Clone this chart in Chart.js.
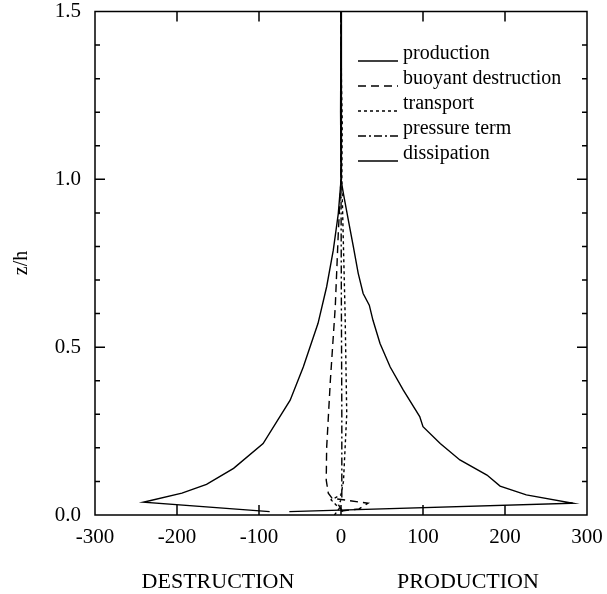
<!DOCTYPE html>
<html>
<head>
<meta charset="utf-8">
<script src="https://cdn.jsdelivr.net/npm/chart.js@4"></script>
<style>
  body { margin: 0; background: #fff; }
</style>
</head>
<body>
<canvas id="budget" width="607" height="594"></canvas>
<script>
// TKE budget terms against z/h (x = term value, y = z/h)
var seriesLabels = ["production", "buoyant destruction", "transport", "pressure term", "dissipation"];

var zProduction = [0.01, 0.035, 0.06, 0.086, 0.119, 0.164, 0.213, 0.263, 0.293, 0.372, 0.441, 0.511, 0.58, 0.625, 0.66, 0.72, 0.80, 0.878, 0.957, 1.0, 1.17, 1.35, 1.5];
var production  = [-63, 283, 226, 194, 178, 145, 121, 100, 96, 76, 60, 47.6, 39, 34.5, 27, 21, 15, 9, 3, 0, 1, 0.5, 0];

var zBuoyant = [0.012, 0.018, 0.035, 0.05, 0.065, 0.104, 0.2, 0.4, 0.62, 0.84, 1.0, 1.5];
var buoyant  = [0, 22, 33, -11, -15.5, -18, -17.5, -13, -7, -3.3, 0, 0];

var zTransport = [0.0, 0.02, 0.045, 0.06, 0.1, 0.2, 0.3, 0.45, 0.6, 0.8, 1.0, 1.17, 1.3, 1.5];
var transport  = [-8, -2, -12, 0, 3, 5, 7, 6, 5, 3, 1, 1.5, 0.5, 0];

var zPressure = [0.01, 0.03, 0.05, 0.1, 0.3, 0.6, 1.0, 1.5];
var pressure  = [2, -3, 1, 1, 1, 0.5, 0, 0];

var zDissipation = [0.01, 0.038, 0.065, 0.091, 0.139, 0.213, 0.342, 0.441, 0.571, 0.68, 0.789, 0.898, 0.997, 1.2, 1.5];
var dissipation  = [-87, -241, -194, -164, -131, -95, -62, -46, -28, -17.5, -9.4, -3.3, 0, -0.5, 0];

var xTicks = [-300, -200, -100, 0, 100, 200, 300];
var yTicks = [0.0, 0.5, 1.0, 1.5];

var dashes = [[], [8, 5], [3, 3], [8, 3, 2, 3], []];

const pairs = (xs, zs) => xs.map((v, i) => ({ x: v, y: zs[i] }));

const serif = "'Liberation Serif', 'DejaVu Serif', serif";

const frameTicks = {
  id: 'frameTicks',
  afterDraw(chart) {
    const c = chart.ctx, a = chart.chartArea;
    const xs = chart.scales.x, ys = chart.scales.y;
    c.save();
    c.strokeStyle = '#000';
    c.lineWidth = 1.5;
    c.strokeRect(a.left, a.top, a.right - a.left, a.bottom - a.top);
    c.beginPath();
    xTicks.slice(1, -1).forEach(v => {
      const px = xs.getPixelForValue(v);
      c.moveTo(px, a.bottom); c.lineTo(px, a.bottom - 10);
      c.moveTo(px, a.top); c.lineTo(px, a.top + 10);
    });
    for (let i = 1; i < 15; i++) {
      const py = ys.getPixelForValue(i / 10);
      const len = (i % 5 === 0) ? 10 : 5;
      c.moveTo(a.left, py); c.lineTo(a.left + len, py);
      c.moveTo(a.right, py); c.lineTo(a.right - len, py);
    }
    c.stroke();

    // legend
    c.font = '20px ' + serif;
    c.fillStyle = '#000';
    c.textBaseline = 'middle';
    chart.data.datasets.forEach((ds, i) => {
      const y = 54 + i * 25;
      c.beginPath();
      c.lineWidth = 1.3;
      c.setLineDash(dashes[i]);
      c.moveTo(358, y + 7); c.lineTo(398, y + 7);
      c.stroke();
      c.setLineDash([]);
      c.fillText(ds.label, 403, y);
    });

    // axis titles
    c.font = '22px ' + serif;
    c.textAlign = 'center';
    c.fillText('DESTRUCTION', 218, 582);
    c.fillText('PRODUCTION', 468, 582);
    c.translate(22, 263);
    c.rotate(-Math.PI / 2);
    c.font = '20px ' + serif;
    c.fillText('z/h', 0, 0);
    c.restore();
  }
};

const makeSet = (i, xs, zs) => ({
  label: seriesLabels[i],
  data: pairs(xs, zs),
  borderColor: '#000',
  borderWidth: 1.4,
  borderDash: dashes[i],
  pointRadius: 0,
  fill: false,
  tension: 0
});

var ctx = document.getElementById('budget').getContext('2d');
var chart = new Chart(ctx, {
  type: 'scatter',
  data: {
    datasets: [
      makeSet(0, production, zProduction),
      makeSet(1, buoyant, zBuoyant),
      makeSet(2, transport, zTransport),
      makeSet(3, pressure, zPressure),
      makeSet(4, dissipation, zDissipation)
    ]
  },
  options: {
    responsive: false,
    animation: false,
    showLine: true,
    layout: { padding: { left: 0, right: 20, top: 11.5, bottom: 0 } },
    plugins: { legend: { display: false }, tooltip: { enabled: false } },
    scales: {
      x: {
        type: 'linear', min: -300, max: 300,
        grid: { display: false },
        border: { display: false },
        afterFit: (s) => { s.height = 79; s.paddingLeft = 0; s.paddingRight = 0; },
        afterBuildTicks: (s) => { s.ticks = xTicks.map(v => ({ value: v })); },
        ticks: { color: '#000', padding: 2, maxRotation: 0, font: { family: serif, size: 21 } }
      },
      y: {
        type: 'linear', min: 0, max: 1.5,
        grid: { display: false },
        border: { display: false },
        afterFit: (s) => { s.width = 95; s.paddingTop = 0; s.paddingBottom = 0; },
        afterBuildTicks: (s) => { s.ticks = yTicks.map(v => ({ value: v })); },
        ticks: { color: '#000', padding: 6, font: { family: serif, size: 21 },
                 callback: (v) => Number(v).toFixed(1) }
      }
    }
  },
  plugins: [frameTicks]
});
</script>
</body>
</html>
